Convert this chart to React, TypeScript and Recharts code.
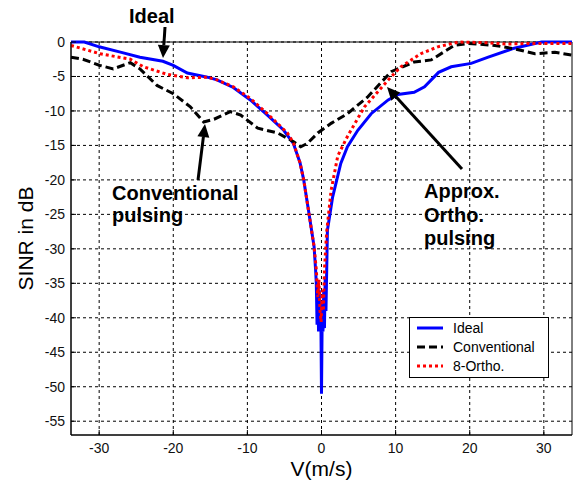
import React from "react";
import {
  LineChart,
  Line,
  XAxis,
  YAxis,
  CartesianGrid,
  Legend,
  ReferenceArea,
} from "recharts";

const FONT = "'Liberation Sans', Arial, sans-serif";

// velocity (m/s) and SINR (dB)
const idealV = [
  -33.8, -32, -30, -27, -24.5, -21.4, -20, -18.1, -15.4, -14.1, -11.9, -9.6,
  -7.3, -5.1, -3.8, -2.9, -2.4, -1.7, -1.0, -0.8, -0.7, -0.6, -0.5, -0.4, -0.3,
  -0.2, -0.1, 0, 0.1, 0.2, 0.3, 0.4, 0.5, 0.6, 0.8, 1.5, 2.6, 3.5, 4.9, 6.7, 9,
  10.3, 12.5, 13.9, 15.8, 17.5, 20.2, 22.5, 26, 29.7, 33.8,
];
const idealSinr = [
  0, 0, -0.7, -1.5, -2.2, -2.8, -3.4, -4.5, -5.1, -5.5, -6.6, -8.4, -10.6,
  -12.8, -14.7, -17.5, -20, -24.8, -29.7, -33, -35, -41, -35, -42, -36, -42,
  -38, -51, -39, -42, -36, -41.5, -34, -39, -27.3, -22.5, -17.6, -15.2, -12.8,
  -10.4, -8.4, -7.6, -7.3, -6.5, -4.4, -3.6, -3.1, -2.2, -0.9, 0, 0,
];

const convV = [
  -33.8, -32.2, -29.9, -28.1, -25.8, -24.5, -22.2, -20, -17.7, -15.9, -14.5,
  -12.3, -10.9, -8.6, -5.9, -3.7, -2.8, -1.9, -0.5, 1.3, 3.5, 6.2, 9.4, 12.5,
  14.8, 17.9, 19.8, 23.4, 26.1, 28.8, 31.5, 33.8,
];
const convSinr = [
  -2.2, -2.5, -3.4, -3.9, -3.0, -3.9, -6.3, -7.5, -9.4, -11.6, -11.2, -10.1,
  -10.6, -12.5, -13.2, -14.5, -15.2, -14.7, -13.2, -11.8, -10.4, -8, -4.3,
  -2.9, -2.6, -0.5, -0.2, -0.5, -1.0, -1.7, -1.5, -1.9,
];

const orthoV = [
  -33.8, -29.9, -25.8, -24, -20.8, -18.1, -15.4, -14.1, -11.9, -9.6, -7.3,
  -4.6, -3.8, -2.9, -2.4, -1.7, -1.0, -0.7, -0.5, -0.35, -0.2, -0.05, 0.1,
  0.25, 0.4, 0.7, 1.3, 2.2, 3.5, 5.8, 9, 10.7, 13.4, 15.7, 18.5, 22, 25, 28,
  33.8,
];
const orthoSinr = [
  -0.5, -1.7, -2.5, -3.6, -4.7, -5.2, -5.1, -5.5, -6.5, -8.2, -10.4, -13.2,
  -14.6, -17.5, -20, -24.8, -29.7, -33, -37, -34.5, -39, -40.6, -36, -39, -33,
  -27.5, -21.5, -16.5, -13.7, -9.4, -5.5, -3.6, -1.7, -0.7, 0, -0.1, -0.3,
  -0.2, -0.2,
];

const xTicks = [-30, -20, -10, 0, 10, 20, 30];
const yTicks = [0, -5, -10, -15, -20, -25, -30, -35, -40, -45, -50, -55];

const zip = (v: number[], s: number[]) => v.map((x, i) => ({ v: x, sinr: s[i] }));
const idealData = zip(idealV, idealSinr);
const convData = zip(convV, convSinr);
const orthoData = zip(orthoV, orthoSinr);

const legendItems = [
  { name: "Ideal", color: "#0000ff", dash: undefined as string | undefined },
  { name: "Conventional", color: "#000000", dash: "8 4" },
  { name: "8-Ortho.", color: "#ff0000", dash: "3 3" },
];

const LegendBox = () => (
  <svg width={140} height={61} style={{ display: "block" }}>
    <rect x={0.5} y={0.5} width={139} height={60} fill="#fff" stroke="#000" />
    {legendItems.map((it, i) => (
      <g key={it.name}>
        <line
          x1={8}
          x2={34}
          y1={11 + i * 19}
          y2={11 + i * 19}
          stroke={it.color}
          strokeWidth={3}
          strokeDasharray={it.dash}
        />
        <text
          x={44}
          y={16 + i * 19}
          fontSize={14}
          fontFamily={FONT}
          fill="#000"
        >
          {it.name}
        </text>
      </g>
    ))}
  </svg>
);

const Arrow = ({ x1, y1, x2, y2 }: { x1: number; y1: number; x2: number; y2: number }) => {
  const a = Math.atan2(y2 - y1, x2 - x1);
  const len = 13;
  const w = 6;
  const bx = x2 - len * Math.cos(a);
  const by = y2 - len * Math.sin(a);
  const px = -Math.sin(a) * w;
  const py = Math.cos(a) * w;
  return (
    <g>
      <line x1={x1} y1={y1} x2={bx} y2={by} stroke="#000" strokeWidth={3} />
      <polygon
        points={`${x2},${y2} ${bx + px},${by + py} ${bx - px},${by - py}`}
        fill="#000"
      />
    </g>
  );
};

const Notes = () => (
  <svg
    width={579}
    height={481}
    style={{ position: "absolute", left: 0, top: 0, pointerEvents: "none" }}
  >
    <g fontFamily={FONT} fontWeight="bold" fontSize={20} fill="#000">
      <text x={129} y={23}>Ideal</text>
      <text x={112} y={200}>Conventional</text>
      <text x={112} y={222}>pulsing</text>
      <text x={424} y={198}>Approx.</text>
      <text x={424} y={222}>Ortho.</text>
      <text x={424} y={245}>pulsing</text>
    </g>
    <Arrow x1={165} y1={27} x2={163} y2={58} />
    <Arrow x1={198} y1={180} x2={205} y2={124} />
    <Arrow x1={462} y1={169} x2={387} y2={87} />
  </svg>
);

const App: React.FC = () => {
  return (
    <div style={{ position: "absolute", left: 0, top: 0, width: 579, height: 481, background: "#fff" }}>
      <LineChart
        width={579}
        height={481}
        margin={{ top: 42, right: 7, left: 0, bottom: 0 }}
      >
        <CartesianGrid
          stroke="#000"
          strokeDasharray="3 3"
          horizontalValues={yTicks}
          verticalValues={xTicks}
        />
        <XAxis
          dataKey="v"
          type="number"
          domain={[-33.8, 33.8]}
          ticks={xTicks}
          height={46}
          stroke="#000"
          tickSize={-5}
          tickMargin={13}
          tick={{ fontSize: 14, fill: "#111", fontFamily: FONT }}
          label={{
            content: ({ viewBox }: any) => (
              <text
                x={viewBox.x + viewBox.width / 2}
                y={viewBox.y + 41}
                textAnchor="middle"
                fontSize={21}
                fontFamily={FONT}
                fill="#000"
              >
                V(m/s)
              </text>
            ),
          }}
        />
        <YAxis
          type="number"
          domain={[-57, 0]}
          ticks={yTicks}
          width={71}
          stroke="#000"
          tickSize={-5}
          tickMargin={11}
          tick={{ fontSize: 14, fill: "#111", fontFamily: FONT }}
          label={{
            content: ({ viewBox }: any) => {
              const cx = viewBox.x + 25;
              const cy = viewBox.y + viewBox.height / 2;
              return (
                <text
                  x={cx}
                  y={cy}
                  transform={`rotate(-90, ${cx}, ${cy})`}
                  textAnchor="middle"
                  dominantBaseline="central"
                  fontSize={21}
                  fontFamily={FONT}
                  fill="#000"
                >
                  SINR in dB
                </text>
              );
            },
          }}
        />
        <ReferenceArea
          x1={-33.8}
          x2={33.8}
          y1={-57}
          y2={0}
          fill="none"
          stroke="#000"
          strokeWidth={1}
        />
        <Line
          data={idealData}
          dataKey="sinr"
          name="Ideal"
          type="linear"
          stroke="#0000ff"
          strokeWidth={3}
          dot={false}
          isAnimationActive={false}
        />
        <Line
          data={convData}
          dataKey="sinr"
          name="Conventional"
          type="linear"
          stroke="#000000"
          strokeWidth={3}
          strokeDasharray="8 4"
          dot={false}
          isAnimationActive={false}
        />
        <Line
          data={orthoData}
          dataKey="sinr"
          name="8-Ortho."
          type="linear"
          stroke="#ff0000"
          strokeWidth={3}
          strokeDasharray="3 3"
          dot={false}
          isAnimationActive={false}
        />
        <Legend
          layout="horizontal"
          verticalAlign="middle"
          align="center"
          content={() => <LegendBox />}
          wrapperStyle={{ left: 409, top: 317, width: 140, height: 61 }}
        />
      </LineChart>
      <Notes />
    </div>
  );
};

export default App;
